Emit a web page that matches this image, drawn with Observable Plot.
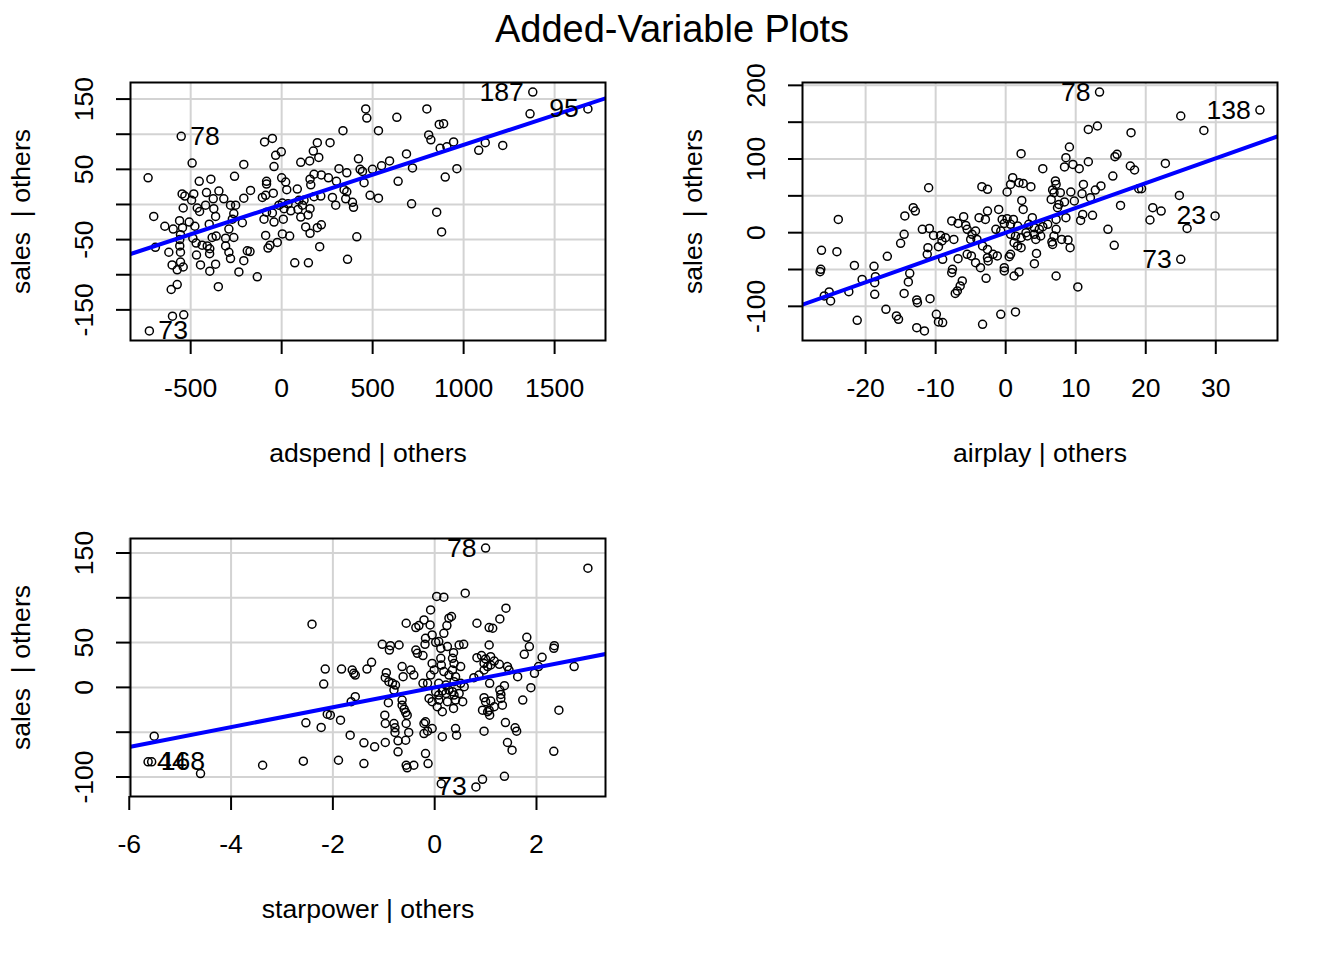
<!DOCTYPE html>
<html><head><meta charset="utf-8">
<script src="https://cdn.jsdelivr.net/npm/d3@7"></script>
<script src="https://cdn.jsdelivr.net/npm/@observablehq/plot@0.6"></script>
<style>
body{margin:0;background:#fff;}
#wrap{position:relative;width:1344px;height:960px;background:#fff;font-family:"Liberation Sans",Arial,sans-serif;overflow:hidden;}
#title{position:absolute;left:0;top:10px;width:1344px;text-align:center;font-size:38px;line-height:38px;color:#000;}
.panel{position:absolute;}
</style></head><body>
<div id="wrap"><div id="title">Added-Variable Plots</div></div>
<script>
// ---- Panel 1: adspend | others ----
const adspendX = [-552,-492,-734,-453,-389,-547,-532,-483,-413,-345,-376,-495,-541,-464,-451,-418,-373,-703,-363,-642,-596,-561,-545,-508,-477,-398,-556,-560,-488,-470,-437,-409,-395,-382,-360,-694,-560,-620,-556,-468,-396,-602,-556,-541,-574,-446,-363,-395,-574,-607,-348,-600,-538,-727,
-94,-51,-33,-2,-208,-42,-259,-83,-83,0,22,28,-171,-208,-318,-106,-88,-46,86,95,-281,-253,-263,-271,-216,-97,-83,-51,-42,-15,4,13,35,50,9,90,-290,-308,-263,-88,-64,-75,-24,4,44,-308,-290,-281,-189,-174,-208,-235,-134,72,
462,468,633,337,532,196,266,174,204,105,154,422,315,358,431,444,499,549,593,640,178,218,257,301,156,160,453,343,358,352,279,215,178,123,114,156,145,297,389,395,486,532,105,132,156,196,218,413,209,362,147,
1380,1683,1365,798,866,890,808,820,871,908,945,1083,1119,1215,686,719,963,899,714,852,879];
const adspendY = [97,59,38,33,36,15,12,15,17,19,8,6,-5,-5,-10,-1,-6,-17,-17,-31,-35,-23,-33,-25,-31,-28,-43,-50,-48,-55,-58,-59,-63,-47,-45,-61,-59,-68,-68,-72,-70,-86,-82,-89,-93,-86,-85,-95,-114,-121,-117,-159,-157,-180,
89,94,70,75,57,54,40,33,29,38,32,21,20,9,8,10,13,16,22,6,-1,-1,-13,-21,-26,-21,-11,-12,-25,-1,2,-6,1,-9,-21,-7,-35,-48,-47,-44,-58,-62,-54,-42,-45,-59,-68,-77,-66,-67,-80,-96,-103,-83,
136,123,124,105,105,88,88,76,67,60,62,65,51,45,50,47,50,55,62,33,43,42,38,33,36,28,31,21,18,8,10,12,11,6,-1,-6,-15,-1,3,-4,13,9,-18,-32,-41,-33,-29,-46,-60,-78,-83,
160,136,129,136,114,115,99,92,80,82,89,77,88,84,72,52,51,39,1,-11,-39];
const adspendLabelText = ["78","73","187","95"];
const adspendLabelX = [-552,-727,1380,1683];
const adspendLabelY = [97,-180,160,136];

// ---- Panel 2: airplay | others ----
const airplayX = [-23.9,-14.4,-14.5,-15,-26.3,-24.1,-16.9,-26.4,-26.5,-21.6,-18.8,-18.6,-18.7,-20.5,-13.7,-13.9,-14.5,-18.7,-22.4,-25.2,-25.9,-25,-17.1,-15.6,-15.3,-21.2,
-11,-3.4,-2.6,-13.2,-12.9,-7.7,-6.8,-6,-5.7,-3.8,-2.9,-2.6,-1,-0.5,-0.2,-11.9,-10.9,-10.3,-9.3,-8.6,-7.4,-9.1,-9.6,-5.5,-4.8,-4.3,-5,-4.1,-3.3,-2.6,-1.8,-1.2,-1.4,-0.7,-11.1,-11.2,-9,-6.8,-5.5,-4.9,-4.3,-3.6,-2.6,-2.5,-7.6,-7.7,-0.2,-0.2,-2.8,-6.2,-6.5,-6.9,-7.2,-12.7,-12.6,-10.8,-9.9,-9.6,-9,-12.7,-11.6,-3.3,-0.7,
13.4,11.8,13.1,9.1,2.2,8.6,8.4,9.6,10.5,11.8,5.3,1,0.7,0.2,1.9,2.5,3.6,7.1,7.2,6.7,6.9,7.8,6.5,9.3,11.1,10.9,12.1,12.8,13.6,2.3,2.5,7.6,8.4,9.8,8.6,7.2,7.4,11,10.7,12.4,0.2,1.1,0.7,1.7,3.8,3.3,4.1,4.8,5.3,6,7.2,6.9,0.7,1.4,2.2,2.9,3.1,4.1,4.3,5,1.2,1.7,2.2,6.6,6.7,8,8.9,9.2,4.4,4.1,0.7,0.5,1.2,1.9,7.2,10.3,1.4,
36.3,25,28.3,17.9,15.9,15.6,22.8,17.8,18.4,15.3,19,19.4,24.8,16.4,21,22.2,20.6,29.9,25.9,14.6,15.5,25];
const airplayY = [18,22.7,-2.3,-14.5,-24,-25.8,-32.1,-49.8,-52.9,-44.4,-45.7,-59.7,-67.9,-63.4,-55.2,-66.9,-82.4,-83.7,-80.1,-80.5,-85.9,-92.7,-104,-113,-117.6,-119,
61,62.4,58.8,33.9,29.4,15.9,12.6,21.7,9.9,20.4,18,29.4,31.6,18,12.6,4.5,5.8,-3.7,-3.7,-6.8,-9.1,-11.3,-19,4.5,-2.3,2.3,-9.1,-9.1,-18,-22.7,-29.4,-31.6,4.5,2.3,-20.4,-29.4,-36.2,-35.3,-29.4,-31.6,-40.7,-47.5,-33.9,-38.4,-49.8,-54.3,-47.5,-52,-62,-65.5,-72.3,-79.1,-82.4,-91.3,-95,-89.6,-110.9,-121.2,-122.1,-128.9,-133.4,-124.4,-110.9,
190.9,140.2,144.8,116.3,107.2,101.8,89.2,92.7,86.9,96.3,86.9,74.6,65.5,55.2,67.9,66.9,62.4,70.2,65.5,58,54.3,54.3,45.2,55.2,65.5,52.9,47.5,57.9,63.4,43.8,31.6,38.4,41.7,43,20.4,18,33.9,24.8,16.7,23.5,19,18,11.3,9.1,20.4,11.3,6.8,4.5,8.1,11.3,4.5,-4.5,-2.3,-4.5,-6.8,0,-4.5,-2.3,-9.1,-4.5,-13.6,-18,-20.4,-12.6,-15.9,-9.1,-9.9,-20.4,-28.1,-42.1,-29.4,-32.6,-58.8,-53.3,-58.8,-73.7,-107.6,
166.5,158.4,138.8,135.7,106.3,103.1,94,90.5,85.1,76.9,59.7,59.7,50.6,37,33.9,29.4,17.2,22.7,5.8,4.5,-17.2,-36.2];
const airplayLabelText = ["78","138","23","73"];
const airplayLabelX = [13.4,36.3,29.9,25];
const airplayLabelY = [190.9,166.5,22.7,-36.2];

// ---- Panel 3: starpower | others ----
const starX = [-2.41,-2.15,-2.18,-2.11,-2.05,-2.53,-2.23,-5.51,-5.63,-5.56,-3.38,-2.58,-4.6,
-0.56,-0.37,-0.31,-0.21,-0.18,-0.19,-1.03,-0.87,-0.7,-0.89,-0.37,-0.34,-0.23,-1.83,-1.62,-1.59,-1.56,-1.33,-1.24,-0.95,-0.97,-0.9,-0.83,-0.77,-0.8,-0.64,-0.62,-0.47,-0.41,-0.23,-1.56,-1.64,-1.85,-0.91,-0.64,-0.64,-0.6,-0.57,-0.54,-0.98,-0.97,-0.8,-0.78,-0.78,-0.56,-0.51,-0.57,-0.72,-0.72,-0.21,-0.21,-1.66,-1.39,-1.18,-0.97,-1.89,-1.39,-0.41,-0.56,-0.54,-0.18,
1.0,0.04,0.18,0.6,-0.08,-0.09,-0.05,0.02,0.28,0.33,0.24,0.18,0.83,1.07,0.08,0.12,0.25,0.37,0.48,0.57,0.35,0.38,0.12,0.13,-0.05,-0.01,0.51,0.83,0.92,1.0,1.07,1.04,0.97,0.18,0.35,0.28,0.41,-0.08,-0.14,0.08,0.22,0.38,0.51,0.58,0.77,0.87,0.97,0.02,0.08,0.15,0.22,0.28,0.35,0.38,0.48,-0.11,-0.05,0.08,0.25,0.41,0.55,0.05,0.15,0.37,0.97,1.0,0.94,1.04,-0.18,-0.05,-0.14,0.15,0.41,0.43,0.97,-0.13,0.13,0.81,0.94,
3.01,1.4,1.28,1.14,1.81,1.86,1.76,2.11,2.35,2.34,1.1,1.17,1.1,1.27,1.43,1.46,1.63,1.96,2.04,2.74,1.08,1.37,1.28,1.3,1.3,1.33,1.89,1.1,1.17,1.07,1.08,1.73,2.44,1.39,1.58,1.61,1.43,1.52,2.34,1.37];
const starY = [70.5,20.5,3.7,-29.9,-31,-39.5,-44.7,-54.5,-83.1,-83.1,-86.9,-82.4,-96.2,
71.6,66.8,69,75.3,54.8,48.1,48.1,46.6,47.3,41.7,41.7,38,35.5,20.5,19.4,15.7,13.8,20.5,28,16.4,10.9,6.4,4.5,2.6,-3,23.2,12,19.4,13.8,4.5,-10.4,-16,-36.6,-17.1,-14.2,-19.8,-24.3,-28,-31,-31,-40.3,-40.3,-45.1,-50.3,-40.3,-50.3,-59,-59.6,-71.9,-40.3,-51.5,-53.3,-61.9,-66.3,-61.5,-81.3,-85,-86.9,-86.9,-89.8,-73.8,
155.5,101.5,100.7,105.1,86.5,69.7,58.5,50.3,77.2,79.1,69,60.4,71.6,66.8,51.1,43.6,45.5,38.8,47.3,48.1,32.4,26.8,32.4,24.9,26.8,19.4,23.2,33.2,35.5,31.7,47.3,23.2,26.8,17.6,19.4,13.8,12,13.8,4.5,4.5,2.6,6.4,4.5,0.8,10.9,13.8,19.4,-4.8,-8.6,-4.1,-6.7,-3,-4.8,-8.6,-6.7,-12.3,-16,-14.2,-16,-14.2,-16,-21.6,-27.2,-23.5,-11.5,-16,-25.4,-27.2,-38.4,-45.9,-48.9,-55.1,-45.9,-53.4,-48.9,-85,-107.4,-111.1,-102.6,
133.1,88.4,76.4,66,55.9,45.5,36.9,33.6,46.6,43.6,34.3,29.4,25,25.7,23.2,19.4,12,15.7,23.2,23.2,4.5,1.9,-3,-7.8,-12.3,-19.8,-0.3,-15.3,-21.6,-25.4,-31,-14.2,-25.4,-39.2,-45.1,-48.9,-61.5,-70.1,-71.3,-99.2];
const starLabelText = ["78","73","44","168"];
const starLabelX = [1.0,0.81,-5.63,-5.56];
const starLabelY = [155.5,-111.1,-83.1,-83.1];

// ---- fitted slopes (coefficients of the full model) ----
const slopes = [0.08488, 3.3674, 11.0863];

// ---- axis ticks ----
const adspendTicks = [-500,0,500,1000,1500];
const airplayTicks = [-20,-10,0,10,20,30];
const starTicks = [-6,-4,-2,0,2];
const yTicks1 = [-150,-100,-50,0,50,100,150], yLab1 = [-150,-50,50,150];
const yTicks2 = [-100,-50,0,50,100,150,200], yLab2 = [-100,0,100,200];
const yTicks3 = [-100,-50,0,50,100,150], yLab3 = [-100,0,50,150];

const FONT = '"Liberation Sans", Arial, sans-serif';
const FS = 26.6;
function ext(v){const lo=d3.min(v), hi=d3.max(v), p=(hi-lo)*0.04; return [lo-p, hi+p];}

function panel(c){
  const xd = ext(c.xs), yd = ext(c.ys);
  const pts = c.xs.map((x,i)=>({x, y:c.ys[i]}));
  const fit = xd.map(x=>({x, y:c.slope*x}));
  const mid = (xd[0]+xd[1])/2;
  const labs = c.labText.map((t,i)=>({t, x:c.labX[i], y:c.labY[i]}));
  const labsL = labs.filter(d=>d.x>mid), labsR = labs.filter(d=>d.x<=mid);
  return Plot.plot({
    width:672, height:480, marginLeft:130, marginRight:67, marginTop:82, marginBottom:140,
    x:{domain:xd}, y:{domain:yd},
    style:{fontFamily:FONT, fontSize:FS+"px", background:"transparent", color:"#000", overflow:"visible"},
    marks:[
      Plot.gridX(c.xTicks, {stroke:"#D3D3D3", strokeOpacity:1, strokeWidth:2}),
      Plot.gridY(c.yTicks, {stroke:"#D3D3D3", strokeOpacity:1, strokeWidth:2}),
      Plot.dot(pts, {x:"x", y:"y", r:4, stroke:"#000", strokeWidth:1.5, fill:"none"}),
      Plot.line(fit, {x:"x", y:"y", stroke:"#0000FF", strokeWidth:4, clip:true}),
      Plot.text(labsL, {x:"x", y:"y", text:"t", textAnchor:"end", dx:-9, clip:true, fontSize:FS, fill:"#000"}),
      Plot.text(labsR, {x:"x", y:"y", text:"t", textAnchor:"start", dx:9, clip:true, fontSize:FS, fill:"#000"}),
      Plot.frame({stroke:"#000", strokeWidth:2}),
      Plot.axisX(c.xTicks, {tickSize:14, tickPadding:24, tickFormat:d=>String(d), strokeWidth:2, label:null, fontSize:FS}),
      Plot.axisY(c.yTicks, {tickSize:14, tickPadding:24, tickRotate:-90, tickFormat:d=>c.yLab.includes(d)?String(d):"", strokeWidth:2, label:null, fontSize:FS}),
      Plot.text([c.xLabel], {text:d=>d, frameAnchor:"bottom", dy:121, fontSize:FS, fill:"#000"}),
      Plot.text([c.yLabel], {text:d=>d, frameAnchor:"left", textAnchor:"middle", dx:-109, rotate:-90, fontSize:FS, fill:"#000"})
    ]
  });
}

const wrap = document.getElementById("wrap");
const cfgs = [
  {left:0, top:0, xs:adspendX, ys:adspendY, slope:slopes[0], xTicks:adspendTicks, yTicks:yTicks1, yLab:yLab1,
   xLabel:"adspend | others", yLabel:"sales\u00a0 | others", labText:adspendLabelText, labX:adspendLabelX, labY:adspendLabelY},
  {left:672, top:0, xs:airplayX, ys:airplayY, slope:slopes[1], xTicks:airplayTicks, yTicks:yTicks2, yLab:yLab2,
   xLabel:"airplay | others", yLabel:"sales\u00a0 | others", labText:airplayLabelText, labX:airplayLabelX, labY:airplayLabelY},
  {left:0, top:456, xs:starX, ys:starY, slope:slopes[2], xTicks:starTicks, yTicks:yTicks3, yLab:yLab3,
   xLabel:"starpower | others", yLabel:"sales\u00a0 | others", labText:starLabelText, labX:starLabelX, labY:starLabelY}
];
for (const c of cfgs){
  const svg = panel(c);
  svg.classList.add("panel");
  svg.style.left = c.left+"px";
  svg.style.top = c.top+"px";
  wrap.appendChild(svg);
}
</script>
</body></html>
